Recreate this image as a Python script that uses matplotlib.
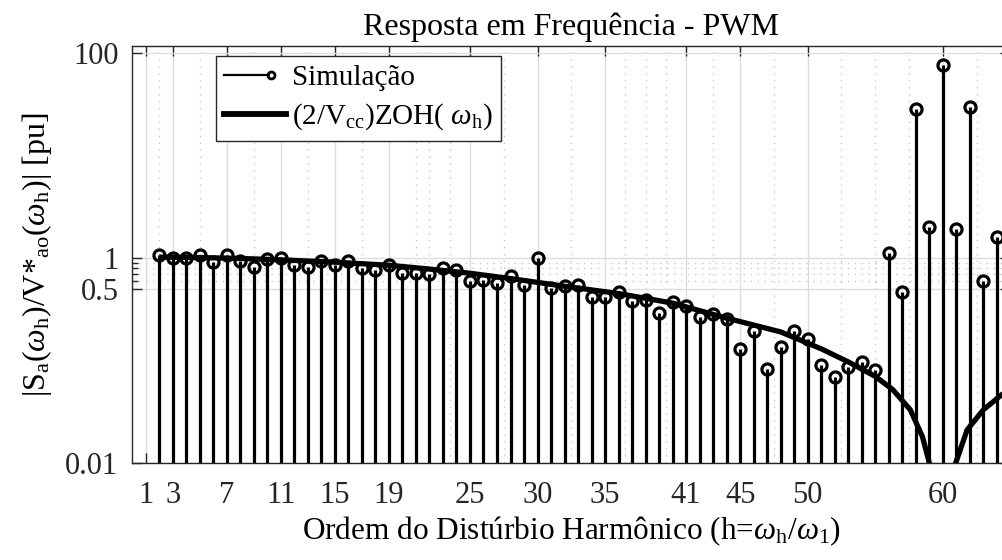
import matplotlib
matplotlib.use("Agg")
import matplotlib.pyplot as plt
import numpy as np
from matplotlib.lines import Line2D

plt.rcParams['font.family'] = ['Liberation Serif', 'DejaVu Serif']
plt.rcParams['mathtext.fontset'] = 'custom'
plt.rcParams['mathtext.rm'] = 'Liberation Serif'
plt.rcParams['mathtext.it'] = 'Liberation Serif:italic'

# harmonic order and simulated magnitude (pu)
harm = list(range(2, 65))
sim = [1.07, 1.01, 1.01, 1.06, 0.91, 1.06, 0.94, 0.81, 0.98, 1.01,
       0.86, 0.81, 0.93, 0.86, 0.94, 0.79, 0.77, 0.85, 0.71, 0.71,
       0.70, 0.79, 0.77, 0.60, 0.61, 0.57, 0.66, 0.54, 1.00, 0.51,
       0.53, 0.55, 0.416, 0.416, 0.465, 0.377, 0.385, 0.29, 0.372, 0.342,
       0.265, 0.284, 0.254, 0.129, 0.195, 0.083, 0.135, 0.196, 0.163, 0.090,
       0.069, 0.086, 0.096, 0.080, 1.11, 0.47, 28.4, 1.99, 76.0, 1.9,
       30.0, 0.60, 1.59]

# ZOH curve points
zoh_h = [2, 5, 8, 11, 15, 19, 22, 25, 28, 32, 36, 40, 44, 48, 51, 53, 55,
         56.3, 57.6, 58.5, 59.05, 59.3, 60, 60.7, 60.9, 61.8, 63, 64.5, 66]
zoh_v = [1.02, 1.01, 0.99, 0.96, 0.91, 0.85, 0.78, 0.71, 0.63, 0.53, 0.45,
         0.363, 0.259, 0.19, 0.13, 0.097, 0.07, 0.052, 0.033, 0.018, 0.0095,
         0.003, 1e-4, 0.003, 0.0095, 0.021, 0.033, 0.048, 0.06]

xticks = [1, 3, 7, 11, 15, 19, 25, 30, 35, 41, 45, 50, 60]
xminor = [2, 5, 9, 13, 17, 21, 22, 23.5, 27.5, 32.5, 36.5, 38, 39.5, 43,
          47.5, 52.5, 55, 57.5, 62.5]
yticks = [0.01, 0.5, 1, 100]
yminor = [0.6, 0.7, 0.8, 0.9]

axc = '#262626'
dots = (0, (1, 4))

fig = plt.figure(figsize=(10.03, 5.6), dpi=100)
ax = fig.add_axes([132.3 / 1003, 97 / 560, 878 / 1003, 417 / 560])
ax.set_yscale('log')

markerline, stemlines, baseline = ax.stem(harm, sim, bottom=1e-3, basefmt=' ')
plt.setp(stemlines, color='k', linewidth=2.3)
plt.setp(markerline, color='k', marker='o', markersize=8,
         markerfacecolor='none', markeredgewidth=2.3)
ax.plot(zoh_h, zoh_v, color='k', linewidth=3.8, solid_capstyle='butt')

ax.set_xlim(0, 65)
ax.set_ylim(0.01, 117)
ax.set_xticks(xticks)
ax.set_xticklabels([str(t) for t in xticks])
ax.set_xticks(xminor, minor=True)
ax.set_yticks(yticks)
ax.set_yticklabels(['0.01', '0.5', '1', '100'])
ax.set_yticks(yminor, minor=True)
ax.yaxis.set_minor_formatter(matplotlib.ticker.NullFormatter())

ax.tick_params(which='both', direction='in', top=True, right=True,
               colors=axc, labelsize=22, width=1.0)
ax.tick_params(which='major', length=7)
ax.tick_params(axis='y', which='minor', length=4)
ax.tick_params(axis='x', which='minor', length=0)
ax.tick_params(axis='x', pad=13)
ax.tick_params(axis='y', pad=10)
for s in ax.spines.values():
    s.set_color(axc)
    s.set_linewidth(1.0)

ax.grid(True, which='major', color='#dcdcdc', linewidth=1.0, linestyle='-')
ax.grid(True, axis='x', which='minor', color='#c8c8c8', linewidth=1.0, linestyle=dots)
for yv in yminor:
    ax.axhline(yv, color='#c8c8c8', linewidth=1.0, linestyle=dots, zorder=0.5)
ax.set_axisbelow(True)

ax.set_title('Resposta em Frequência - PWM', fontsize=23, pad=8)
ax.set_xlabel(r'Ordem do Distúrbio Harmônico (h=$\omega_{\rm h}$/$\omega_{\rm 1}$)',
              fontsize=22.5, labelpad=3)
ax.set_ylabel(r'|S$_{\rm a}$($\omega_{\rm h}$)/V*$_{\rm ao}$($\omega_{\rm h}$)| [pu]',
              fontsize=23, labelpad=8)


class StemHandle:
    def legend_artist(self, legend, orig_handle, fontsize, handlebox):
        x0, y0 = handlebox.xdescent, handlebox.ydescent
        w, h = handlebox.width, handlebox.height
        tr = handlebox.get_transform()
        ln = Line2D([x0, x0 + w * 0.72], [y0 + h / 2] * 2, color='k',
                    linewidth=1.6, transform=tr)
        mk = Line2D([x0 + w * 0.76], [y0 + h / 2], marker='o', markersize=5,
                    markerfacecolor='none', markeredgecolor='k',
                    markeredgewidth=2, transform=tr)
        handlebox.add_artist(ln)
        handlebox.add_artist(mk)
        return ln


sim_proxy = Line2D([], [], color='k')
zoh_proxy = Line2D([], [], color='k', linewidth=4.2)
leg = ax.legend([sim_proxy, zoh_proxy],
                ['Simulação', r'(2/V$_{\rm cc}$)ZOH( $\omega_{\rm h}$)'],
                handler_map={sim_proxy: StemHandle()},
                loc='upper left', bbox_to_anchor=(0.095, 0.976),
                fontsize=21, fancybox=False, framealpha=1, edgecolor=axc,
                handlelength=2.1, handletextpad=0.2, borderpad=0.3,
                labelspacing=0.35, borderaxespad=0)
leg.get_frame().set_linewidth(1.0)

fig.savefig('out.png', dpi=100)
